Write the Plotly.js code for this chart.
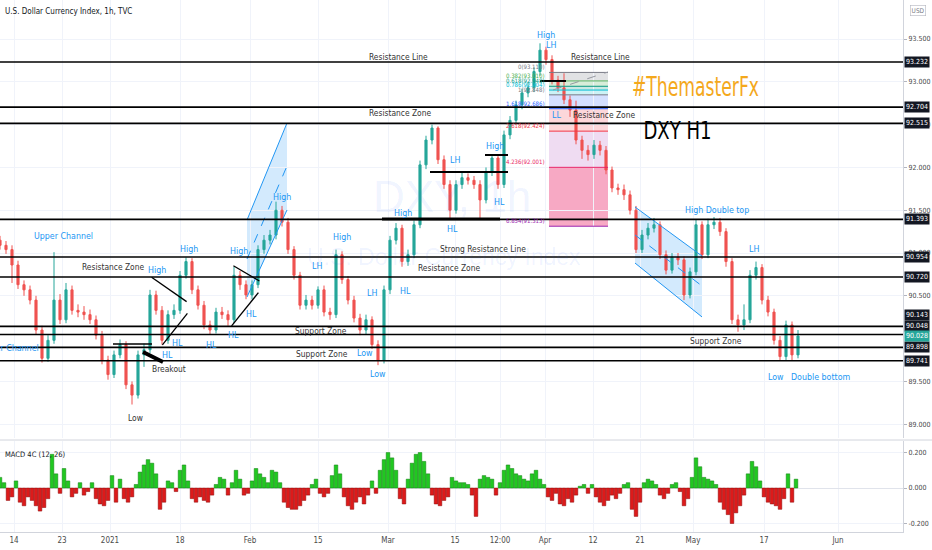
<!DOCTYPE html>
<html><head><meta charset="utf-8">
<script src="https://cdn.plot.ly/plotly-3.0.1.min.js"></script>
<style>html,body{margin:0;padding:0;background:#fff}#chart{width:932px;height:550px}</style>
</head><body><div id="chart"></div>
<script>
// ---- data (DXY, 1h, TVC), one candle per ~6px slot ----
const openP = [91.15,91.09,91.04,90.86,90.63,90.57,90.45,90.10,89.77,89.98,
 90.45,90.22,90.57,90.33,90.31,90.28,90.22,90.04,89.75,89.58,
 89.81,89.93,89.46,89.34,89.81,89.87,90.51,90.33,89.98,90.28,
 90.33,90.74,90.90,90.57,90.39,90.16,90.10,90.31,90.28,90.22,
 90.74,90.63,90.51,90.63,91.04,91.15,91.21,91.50,91.36,91.04,
 90.74,90.39,90.45,90.39,90.57,90.31,90.28,90.98,90.69,90.45,
 90.24,90.10,90.22,89.93,89.75,90.57,91.15,91.29,90.90,90.98,
 91.33,92.03,92.32,92.46,92.09,91.80,91.50,91.80,91.88,91.85,
 91.80,91.62,91.95,92.11,91.80,92.38,92.55,92.73,92.87,92.93,
 93.12,93.37,93.26,93.02,92.93,92.79,92.67,92.32,92.20,92.15,
 92.26,92.20,91.97,91.76,91.74,91.68,91.50,91.04,91.21,91.29,
 91.33,90.98,90.80,90.95,90.92,90.51,90.78,91.33,90.98,91.33,
 91.36,91.25,90.90,90.22,90.16,90.22,90.74,90.83,90.45,90.31,
 89.98,89.79,90.16,89.81];
const highP = [91.20,91.14,91.09,90.91,90.68,90.62,90.50,90.15,90.04,91.01,
 90.52,90.65,90.62,90.40,90.38,90.34,90.27,90.09,89.80,89.86,
 89.99,89.97,89.50,89.86,89.94,90.57,90.56,90.38,90.33,90.40,
 90.79,90.95,90.94,90.62,90.44,90.21,90.36,90.37,90.33,90.84,
 90.79,90.68,90.68,91.09,91.21,91.27,91.60,91.55,91.41,91.08,
 90.78,90.51,90.50,90.61,90.62,90.36,91.04,91.02,90.73,90.50,
 90.29,90.28,90.26,89.98,90.62,91.20,91.35,91.33,91.04,91.38,
 92.08,92.37,92.50,92.48,92.14,91.85,91.85,91.94,91.93,91.90,
 91.85,92.00,92.15,92.14,92.43,92.60,92.78,92.92,92.99,93.17,
 93.45,93.41,93.31,93.07,93.10,92.84,92.78,92.37,92.26,92.32,
 92.31,92.25,92.01,91.81,91.80,91.73,91.55,91.27,91.35,91.41,
 91.37,91.03,91.00,91.00,90.96,90.83,91.39,91.37,91.40,91.42,
 91.41,91.29,90.94,90.28,90.40,90.80,90.90,90.87,90.50,90.35,
 90.03,90.21,90.20,90.10];
const lowP = [91.04,90.99,90.65,90.58,90.50,90.40,90.05,89.72,89.73,89.94,
 90.17,90.18,90.28,90.25,90.22,90.17,89.99,89.70,89.52,89.54,
 89.77,89.41,89.23,89.30,89.67,89.83,90.28,89.93,89.94,90.23,
 90.29,90.70,90.52,90.34,90.11,90.05,90.06,90.23,90.15,90.18,
 90.57,90.46,90.46,90.59,90.99,91.10,91.16,91.31,90.99,90.69,
 90.34,90.34,90.34,90.35,90.26,90.22,90.24,90.64,90.40,90.19,
 90.04,90.05,89.88,89.69,89.71,90.52,91.10,90.84,90.85,90.94,
 91.29,91.98,92.27,92.04,91.75,91.39,91.46,91.75,91.80,91.75,
 91.39,91.58,91.90,91.75,91.76,92.33,92.50,92.68,92.82,92.88,
 93.07,93.20,92.97,92.88,92.74,92.59,92.27,92.10,92.08,92.10,
 92.14,91.92,91.71,91.68,91.62,91.45,91.00,91.00,91.16,91.24,
 90.93,90.75,90.76,90.86,90.45,90.47,90.74,90.93,90.94,91.28,
 91.20,90.84,90.17,90.08,90.10,90.18,90.69,90.40,90.26,89.93,
 89.75,89.75,89.74,89.77];
const closeP = [91.09,91.04,90.86,90.63,90.57,90.45,90.10,89.77,89.98,90.45,
 90.22,90.57,90.33,90.31,90.28,90.22,90.04,89.75,89.58,89.81,
 89.93,89.46,89.34,89.81,89.87,90.51,90.33,89.98,90.28,90.33,
 90.74,90.90,90.57,90.39,90.16,90.10,90.31,90.28,90.22,90.74,
 90.63,90.51,90.63,91.04,91.15,91.21,91.50,91.36,91.04,90.74,
 90.39,90.45,90.39,90.57,90.31,90.28,90.98,90.69,90.45,90.24,
 90.10,90.22,89.93,89.75,90.57,91.15,91.29,90.90,90.98,91.33,
 92.03,92.32,92.46,92.09,91.80,91.50,91.80,91.88,91.85,91.80,
 91.62,91.95,92.11,91.80,92.38,92.55,92.73,92.87,92.93,93.12,
 93.37,93.26,93.02,92.93,92.79,92.67,92.32,92.20,92.15,92.26,
 92.20,91.97,91.76,91.74,91.68,91.50,91.04,91.21,91.29,91.33,
 90.98,90.80,90.95,90.92,90.51,90.78,91.33,90.98,91.33,91.36,
 91.25,90.90,90.22,90.16,90.22,90.74,90.83,90.45,90.31,89.98,
 89.79,90.16,89.81,90.03];
// MACD 4C (12, 26) histogram, one bar per ~4px slot
const macdHist = [0.06,0.03,-0.07,-0.05,0.04,-0.08,-0.10,-0.05,-0.07,-0.10,
 -0.13,-0.11,-0.06,0.19,0.08,-0.03,0.11,0.04,-0.05,-0.03,
 0.03,-0.04,-0.02,0.03,-0.06,-0.09,-0.10,-0.07,0.07,-0.08,
 0.05,-0.06,-0.08,-0.05,0.02,0.09,0.13,0.16,0.14,0.08,
 -0.12,-0.08,0.04,0.03,-0.02,0.10,0.13,0.04,-0.06,-0.08,
 -0.05,-0.07,-0.08,-0.04,0.02,0.06,0.05,-0.04,0.03,0.10,
 0.05,-0.04,-0.03,0.04,0.11,0.08,0.06,0.03,0.10,0.09,
 0.03,-0.08,-0.11,-0.12,-0.12,-0.10,-0.07,-0.04,0.02,0.05,
 -0.03,-0.05,-0.03,0.07,0.13,0.08,-0.05,-0.10,-0.12,-0.08,
 -0.05,-0.09,-0.04,0.04,-0.03,0.10,0.16,0.20,0.17,0.10,
 -0.06,-0.09,0.05,0.14,0.19,0.20,0.15,0.08,-0.04,-0.09,
 -0.10,-0.07,-0.05,0.06,0.04,0.03,0.03,0.02,-0.04,-0.16,
 0.05,0.07,0.06,0.05,-0.04,0.03,0.10,0.13,0.11,0.08,
 0.07,0.05,0.04,0.08,0.10,0.05,0.02,-0.05,-0.07,-0.03,
 -0.09,-0.10,-0.06,-0.08,-0.04,0.01,0.02,-0.03,0.02,-0.05,
 -0.08,-0.10,-0.07,-0.04,-0.06,-0.03,0.02,0.03,-0.12,-0.16,
 -0.08,0.03,0.05,0.04,0.02,-0.04,-0.06,-0.03,0.02,0.03,
 -0.02,-0.10,-0.06,0.06,0.17,0.12,0.06,0.05,0.04,0.02,
 -0.08,-0.12,-0.15,-0.20,-0.14,-0.10,-0.04,0.08,0.15,0.12,
 0.04,-0.05,-0.08,-0.09,-0.10,-0.12,-0.06,0.08,-0.08,0.05];

const timeTickPos  = [7,31,55,90,125,159,194,227.5,250,272.5,296.5,320,346.5,382,419];
const timeTickText = ['14','23','2021','18','Feb','15','Mar','15','12:00','Apr','12','21','May','17','Jun'];
const priceTicks = [89,89.5,90.5,91,91.5,92,92.5,93,93.5];
const levelPrices = [93.232,92.704,92.515,91.393,90.954,90.720,90.143,90.048,89.898,89.741];
const levelShift  = [0,0,0,0,0,0,11,9,0,0];
const lastPrice = 90.028;
const fibRatios = ['0','0.382','0.618','0.786','1','1.618','2.618','4.236','6.854'];
const fibPrices = [93.110,93.010,92.948,92.904,92.848,92.686,92.424,92.001,91.313];
const fibLine = ['#787b86','#4caf50','#089981','#00bcd4','#787b86','#2962ff','#f23645','#e91e63','#9c27b0'];
const fibFill = ['rgba(120,123,134,0.22)','rgba(76,175,80,0.22)','rgba(8,153,129,0.22)','rgba(0,188,212,0.2)',
                 'rgba(41,98,255,0.2)','rgba(242,54,69,0.2)','rgba(156,39,176,0.16)','rgba(233,30,99,0.38)'];

const CANDLE_STEP = 3, MACD_STEP = 2;
const FONT = "'Liberation Sans Narrow','DejaVu Sans Condensed','Liberation Sans',sans-serif";
const BLUE = '#2196f3', DARK = '#333333';

const xC = closeP.map((_, i) => i * CANDLE_STEP);
const xM = macdHist.map((_, i) => i * MACD_STEP);

const traces = [
  {type:'candlestick', x:xC, open:openP, high:highP, low:lowP, close:closeP, xaxis:'x', yaxis:'y',
   increasing:{line:{color:'#26a69a', width:1}, fillcolor:'#26a69a'},
   decreasing:{line:{color:'#ef5350', width:1}, fillcolor:'#ef5350'},
   whiskerwidth:0, hoverinfo:'skip'},
  {type:'bar', x:xM, y:macdHist, xaxis:'x', yaxis:'y2', width:MACD_STEP*0.9,
   marker:{color:macdHist.map(v => v >= 0 ? '#20c820' : '#dd1a1a'),
           line:{color:macdHist.map(v => v >= 0 ? '#0d7d0d' : '#8a0000'), width:0.5}},
   hoverinfo:'skip'}
];

const shapes = [];
for (let j = 0; j < fibPrices.length - 1; j++) {
  shapes.push({type:'rect', xref:'x', yref:'y', x0:274.5, x1:304, y0:fibPrices[j+1], y1:fibPrices[j],
               fillcolor:fibFill[j], line:{width:0}, layer:'below'});
}
fibPrices.forEach((p, j) => shapes.push({type:'line', xref:'x', yref:'y', x0:274.5, x1:304, y0:p, y1:p,
  line:{color:fibLine[j], width:1}}));
shapes.push({type:'line', xref:'x', yref:'y', x0:276.5, x1:304, y0:92.905, y1:93.115,
  line:{color:'#9598a1', width:1, dash:'dash'}});
shapes.push({type:'path', xref:'x', yref:'y', path:'M 123.5,91.386 L 143.5,92.519 L 143.5,91.503 L 123.5,90.486 Z',
  fillcolor:'rgba(33,150,243,0.2)', line:{width:0}, layer:'below'});
shapes.push({type:'line', xref:'x', yref:'y', x0:123.5, y0:91.386, x1:143.5, y1:92.519, line:{color:BLUE, width:1}});
shapes.push({type:'line', xref:'x', yref:'y', x0:123.5, y0:90.486, x1:143.5, y1:91.503, line:{color:BLUE, width:1}});
shapes.push({type:'line', xref:'x', yref:'y', x0:123.5, y0:90.93, x1:143.5, y1:92.017, line:{color:BLUE, width:1, dash:'dash'}});
shapes.push({type:'path', xref:'x', yref:'y', path:'M 317.5,91.538 L 351,90.965 L 351,90.253 L 317.5,90.883 Z',
  fillcolor:'rgba(33,150,243,0.2)', line:{width:0}, layer:'below'});
shapes.push({type:'line', xref:'x', yref:'y', x0:317.5, y0:91.538, x1:351, y1:90.965, line:{color:BLUE, width:1}});
shapes.push({type:'line', xref:'x', yref:'y', x0:317.5, y0:90.883, x1:351, y1:90.253, line:{color:BLUE, width:1}});
shapes.push({type:'line', xref:'x', yref:'y', x0:317.5, y0:91.211, x1:351, y1:90.615, line:{color:BLUE, width:1, dash:'dash'}});
levelPrices.forEach(p => shapes.push({type:'line', xref:'paper', yref:'y', x0:0, x1:1, y0:p, y1:p,
  line:{color:'#000000', width:1.6}}));
[[215,254,91.947,2],[242.5,254,92.145,2],[191,250,91.398,3],[270,283,93.010,2],[56.5,76,89.937,1.5]]
  .forEach(s => shapes.push({type:'line', xref:'x', yref:'y', x0:s[0], x1:s[1], y0:s[2], y1:s[2],
  line:{color:'#000000', width:s[3]}}));
[[75.8,90.717,93.3,90.432],[81.2,89.926,93.7,90.296],[116.7,90.852,129.7,90.673],[115.8,90.148,129.2,90.537]]
  .forEach(s => shapes.push({type:'line', xref:'x', yref:'y', x0:s[0], y0:s[1], x1:s[2], y1:s[3],
  line:{color:'#000000', width:1.3}}));
shapes.push({type:'line', xref:'x', yref:'y', x0:71.5, y0:89.844, x1:81.5, y1:89.727, line:{color:'#000000', width:4}});
shapes.push({type:'line', xref:'paper', yref:'paper', x0:0, x1:1.04, y0:0.1729, y1:0.1729, line:{color:'#d1d4dc', width:1}});

const ann = [];
function lab(t, x, y, c, size, extra) {
  ann.push(Object.assign({text:t, x:x, y:y, xref:'x', yref:'y', showarrow:false,
    font:{family:FONT, size:size, color:c}}, extra || {}));
}
const blueLabels = [['High',273,93.547],['LH',275.5,93.430],['LH',227.5,92.087],['High',247.5,92.250],
 ['HL',249.5,91.596],['HL',226,91.281],['High',201.5,91.468],['High',141,91.655],['High',119.5,91.024],
 ['High',94.5,91.047],['High',78.5,90.802],['Upper Channel',31.5,91.199],['High',171,91.187],
 ['LH',158.5,90.849],['LH',186,90.533],['HL',202.5,90.556],['HL',125.5,90.288],['HL',116.5,90.042],
 ['HL',88.5,89.950],['HL',105.5,89.926],['HL',83.5,89.809],['Low',182.5,89.832],['Low',189,89.587],
 ['High Double top',358.5,91.503],['LH',377,91.047],['Low',388,89.552],['Double bottom',410,89.552],
 ['LL',278,92.613]];
blueLabels.forEach(l => lab(l[0], l[1], l[2], BLUE, 8.8));
lab('Lower Channel', 20.5, 89.891, BLUE, 8.8, {xanchor:'right'});
const darkLabels = [['Resistance Line',199,93.290],['Resistance Line',300.3,93.290],['Resistance Zone',200,92.636],
 ['Resistance Zone',302.3,92.613],['Resistance Zone',56.5,90.837],['Strong Resistance Line',241.5,91.047],
 ['Resistance Zone',224.5,90.825],['Support Zone',160.5,90.089],['Support Zone',161,89.820],
 ['Breakout',84.5,89.645],['Low',67.5,89.073],['Support Zone',358,89.972]];
darkLabels.forEach(l => lab(l[0], l[1], l[2], DARK, 8.4));
fibPrices.forEach((p, j) => lab(fibRatios[j] + '(' + p.toFixed(3) + ')', 273.5, p, fibLine[j], 6,
  {xanchor:'right', yanchor:'bottom'}));
lab('DXY, 1h', 226, 91.655, 'rgba(41,98,255,0.08)', 44, {font:{family:"'Liberation Sans',sans-serif", size:44, color:'rgba(41,98,255,0.08)'}});
lab('U.S. Dollar Currency Index', 222, 90.954, 'rgba(41,98,255,0.08)', 23, {font:{family:"'Liberation Sans',sans-serif", size:23, color:'rgba(41,98,255,0.08)'}});
lab('#ThemasterFx', 347.75, 92.940, '#f4a81c', 26);
lab('DXY H1', 338.5, 92.426, '#000000', 25);
levelPrices.forEach((p, j) => ann.push({text:p.toFixed(3), xref:'paper', yref:'y', x:1, y:p, xanchor:'left',
  xshift:1, yshift:levelShift[j], showarrow:false, bgcolor:'#131722', borderpad:1,
  font:{family:FONT, size:7, color:'#ffffff'}}));
ann.push({text:lastPrice.toFixed(3), xref:'paper', yref:'y', x:1, y:lastPrice, xanchor:'left', xshift:1,
  showarrow:false, bgcolor:'#26a69a', borderpad:1, font:{family:FONT, size:7, color:'#ffffff'}});
ann.push({text:'U.S. Dollar Currency Index, 1h, TVC', xref:'paper', yref:'paper', x:0, y:1, xanchor:'left',
  yanchor:'top', xshift:3, yshift:-5, showarrow:false, font:{family:FONT, size:8, color:'#131722'}});
ann.push({text:'USD', xref:'paper', yref:'paper', x:1, y:1, xanchor:'left', yanchor:'top', xshift:7, yshift:-5,
  showarrow:false, bordercolor:'#b2b5be', borderwidth:0.6, borderpad:1, font:{family:FONT, size:6.5, color:'#787b86'}});
ann.push({text:'MACD 4C (12, 26)', xref:'paper', yref:'paper', x:0, y:0.171, xanchor:'left', yanchor:'top',
  xshift:3, yshift:-7, showarrow:false, font:{family:FONT, size:7.5, color:'#131722'}});

const layout = {
  width:932, height:550, margin:{l:0, r:29, t:0, b:18},
  paper_bgcolor:'#ffffff', plot_bgcolor:'#ffffff', showlegend:false, boxgap:0.5,
  xaxis:{domain:[0,1], range:[0,451.5], anchor:'y2', tickvals:timeTickPos, ticktext:timeTickText,
    tickfont:{family:FONT, size:8, color:'#4a4a4a'}, showgrid:true, gridcolor:'#f0f3fa', showline:true,
    linecolor:'#d1d4dc', ticks:'', zeroline:false, rangeslider:{visible:false}, fixedrange:true},
  yaxis:{domain:[0.1767,1], range:[88.839,93.956], side:'right', anchor:'x', tickvals:priceTicks, tickformat:'.3f',
    tickfont:{family:FONT, size:7, color:'#4a4a4a'}, ticks:'outside', ticklen:3, tickcolor:'#b2b5be',
    showline:true, linecolor:'#d1d4dc', showgrid:true, gridcolor:'#f0f3fa', zeroline:false},
  yaxis2:{domain:[0,0.171], range:[-0.248,0.265], side:'right', anchor:'x', tickvals:[-0.2,0,0.2],
    ticktext:['-0.200','0.000','0.200'], tickfont:{family:FONT, size:7, color:'#4a4a4a'}, ticks:'outside',
    ticklen:3, tickcolor:'#b2b5be', showline:true, linecolor:'#d1d4dc', showgrid:true, gridcolor:'#f0f3fa',
    zeroline:true, zerolinecolor:'#e0e3eb', zerolinewidth:1},
  shapes:shapes, annotations:ann
};
// condensed brand texts (reference uses a narrow typeface)
const brandWidths = {'#ThemasterFx':127, 'DXY H1':68};
Plotly.newPlot('chart', traces, layout, {staticPlot:true, displayModeBar:false}).then(() => {
  document.querySelectorAll('text.annotation-text').forEach(t => {
    const w = brandWidths[t.textContent];
    if (w) { t.setAttribute('textLength', w); t.setAttribute('lengthAdjust', 'spacingAndGlyphs'); }
  });
});
</script></body></html>
